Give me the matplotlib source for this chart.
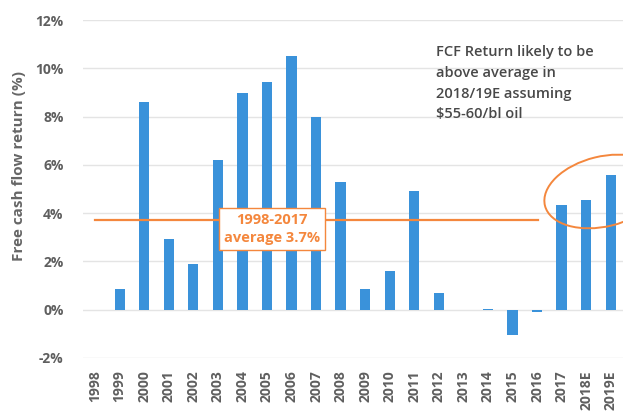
import matplotlib
matplotlib.use("Agg")
import matplotlib.pyplot as plt
from matplotlib.patches import Ellipse
from matplotlib.ticker import FuncFormatter

years = ["1998", "1999", "2000", "2001", "2002", "2003", "2004", "2005", "2006",
         "2007", "2008", "2009", "2010", "2011", "2012", "2013", "2014", "2015",
         "2016", "2017", "2018E", "2019E"]
fcf_return = [0.0, 0.86, 8.6, 2.95, 1.9, 6.2, 9.0, 9.45, 10.5,
              8.0, 5.3, 0.87, 1.6, 4.9, 0.7, 0.0, 0.05, -1.05,
              -0.1, 4.33, 4.55, 5.6]
average = 3.7
y_ticks = [-2, 0, 2, 4, 6, 8, 10, 12]

plt.rcParams['font.family'] = ['Open Sans', 'DejaVu Sans']

fig = plt.figure(figsize=(6.23, 4.11), dpi=100)
ax = fig.add_axes([0.133, 0.129, 0.867, 0.822])

x = list(range(len(years)))
ax.bar(x, fcf_return, width=0.42, color="#3A92DA", zorder=3)

ax.set_xlim(-0.5, len(years) - 0.5)
ax.set_ylim(-2, 12)
ax.set_yticks(y_ticks)
ax.yaxis.set_major_formatter(FuncFormatter(lambda v, p: f"{int(v)}%"))
ax.set_xticks(x)
ax.set_xticklabels(years, rotation=90)
ax.grid(axis="y", color="#e4e4e4", linewidth=1, zorder=0)
for s in ax.spines.values():
    s.set_visible(False)
ax.tick_params(length=0, colors="#5f5f5f", labelsize=10)
for lbl in ax.get_xticklabels() + ax.get_yticklabels():
    lbl.set_fontweight("bold")
ax.tick_params(axis="y", pad=14)
ax.tick_params(axis="x", pad=9)
ax.set_ylabel("Free cash flow return (%)", color="#666666", fontsize=11,
              fontweight="bold")
ax.yaxis.set_label_coords(-0.106, 0.568)

# average line
ax.plot([0, 18.05], [average, average], color="#F4873D", linewidth=1.6, zorder=4)
ax.text(7.2, 3.35, "1998-2017\naverage 3.7%", ha="center", va="center",
        color="#F4873D", fontsize=10.5, fontweight="bold", linespacing=1.4,
        zorder=5,
        bbox=dict(boxstyle="square,pad=0.35", fc="white", ec="#F4873D", lw=1))

# ellipse
ell = Ellipse((20.7, 4.9), width=4.9, height=2.9, angle=14, fill=False,
              edgecolor="#F4873D", linewidth=1.4, zorder=5, clip_on=True)
ax.add_patch(ell)

ax.text(13.9, 10.95, "FCF Return likely to be\nabove average in\n2018/19E assuming\n$55-60/bl oil",
        ha="left", va="top", color="#484848", fontsize=10.5, fontweight="semibold",
        linespacing=1.6)

fig.savefig("out.png", dpi=100)
